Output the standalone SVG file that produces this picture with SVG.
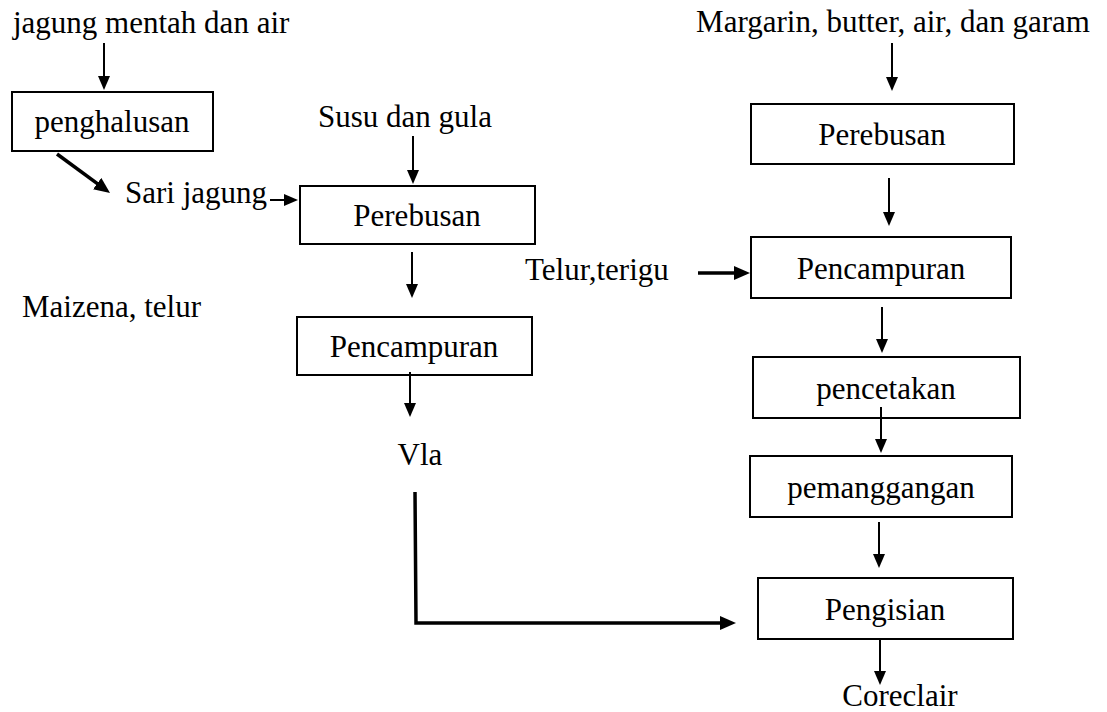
<svg xmlns="http://www.w3.org/2000/svg" width="1107" height="712" viewBox="0 0 1107 712">
<style>
text{font-size:31px;fill:#000}
.c{text-anchor:middle}
.box{fill:#fff;stroke:#000;stroke-width:2}
.ln{stroke:#000;stroke-width:2;fill:none}
.lt{stroke:#000;stroke-width:3.5;fill:none}
</style>
<defs>
<marker id="ah" markerUnits="userSpaceOnUse" markerWidth="14" markerHeight="12" refX="6" refY="6" orient="auto"><path d="M0,0 L14,6 L0,12 z" fill="#000"/></marker>
<marker id="aht" markerUnits="userSpaceOnUse" markerWidth="16" markerHeight="14" refX="7" refY="7" orient="auto"><path d="M0,0 L16,7 L0,14 z" fill="#000"/></marker>
</defs>
<rect width="1107" height="712" fill="#fff"/>
<g font-family="Liberation Serif, Times New Roman, DejaVu Serif, serif">
<g id="labels">
<text x="13" y="33">jagung mentah dan air</text>
<text x="125" y="203">Sari jagung</text>
<text x="22" y="317">Maizena, telur</text>
<text x="405" y="127" class="c">Susu dan gula</text>
<text x="420" y="465" class="c">Vla</text>
<text x="893" y="32" class="c">Margarin, butter, air, dan garam</text>
<text x="525" y="280">Telur,terigu</text>
<text x="900" y="706" class="c">Coreclair</text>
</g>
<g id="n-penghalusan"><rect class="box" x="12" y="92" width="201" height="59"/><text x="112" y="132" class="c">penghalusan</text></g>
<g id="n-perebusan1"><rect class="box" x="300" y="186" width="235" height="58"/><text x="417" y="226" class="c">Perebusan</text></g>
<g id="n-pencampuran1"><rect class="box" x="297" y="317" width="235" height="58"/><text x="414" y="357" class="c">Pencampuran</text></g>
<g id="n-perebusan2"><rect class="box" x="751" y="104" width="263" height="60"/><text x="882" y="145" class="c">Perebusan</text></g>
<g id="n-pencampuran2"><rect class="box" x="751" y="237" width="260" height="61"/><text x="881" y="279" class="c">Pencampuran</text></g>
<g id="n-pencetakan"><rect class="box" x="753" y="357" width="267" height="61"/><text x="886" y="399" class="c">pencetakan</text></g>
<g id="n-pemanggangan"><rect class="box" x="750" y="456" width="262" height="61"/><text x="881" y="498" class="c">pemanggangan</text></g>
<g id="n-pengisian"><rect class="box" x="758" y="578" width="255" height="61"/><text x="885" y="620" class="c">Pengisian</text></g>
</g>
<g id="connectors">
<line class="ln" x1="104" y1="43" x2="104" y2="82" marker-end="url(#ah)"/>
<line class="ln" x1="413" y1="136" x2="413" y2="176" marker-end="url(#ah)"/>
<line class="ln" x1="412" y1="252" x2="412" y2="290" marker-end="url(#ah)"/>
<line class="ln" x1="410" y1="372" x2="410" y2="409" marker-end="url(#ah)"/>
<line class="ln" x1="892" y1="43" x2="892" y2="83" marker-end="url(#ah)"/>
<line class="ln" x1="889" y1="178" x2="889" y2="218" marker-end="url(#ah)"/>
<line class="ln" x1="882" y1="307" x2="882" y2="345" marker-end="url(#ah)"/>
<line class="ln" x1="881" y1="407" x2="881" y2="445" marker-end="url(#ah)"/>
<line class="ln" x1="879" y1="522" x2="879" y2="560" marker-end="url(#ah)"/>
<line class="ln" x1="880" y1="639" x2="880" y2="677" marker-end="url(#ah)"/>
<line class="lt" x1="57" y1="154" x2="102.8" y2="187.7" marker-end="url(#aht)"/>
<line class="ln" x1="270" y1="200" x2="290" y2="200" marker-end="url(#ah)"/>
<line class="lt" x1="698" y1="273" x2="741" y2="273" marker-end="url(#aht)"/>
<polyline class="lt" points="415,492 416,623 727,623" marker-end="url(#aht)"/>
</g>
</svg>
